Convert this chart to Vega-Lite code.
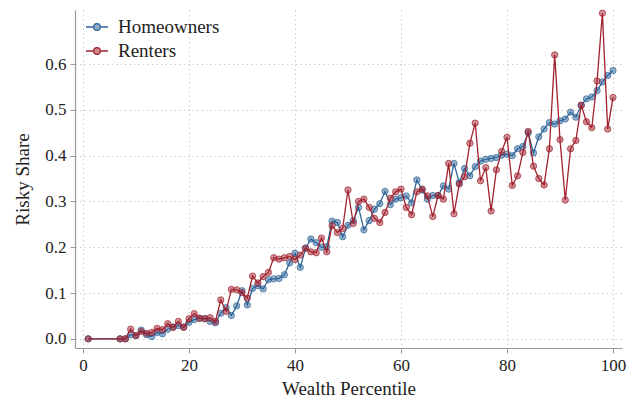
{
  "$schema": "https://vega.github.io/schema/vega-lite/v6.json",
  "width": 547,
  "height": 338,
  "autosize": "none",
  "padding": {"left": 75, "top": 10, "right": 4, "bottom": 54},
  "background": "white",
  "config": {
    "view": {"stroke": null},
    "font": "Liberation Serif, DejaVu Serif, serif",
    "axis": {
      "domainColor": "#9a9a9a",
      "domainWidth": 1.2,
      "tickColor": "#9a9a9a",
      "tickSize": 5,
      "tickWidth": 1,
      "labelFont": "Liberation Serif, DejaVu Serif, serif",
      "labelFontSize": 17,
      "labelColor": "#222222",
      "labelPadding": 4,
      "titleFont": "Liberation Serif, DejaVu Serif, serif",
      "titleFontSize": 19,
      "titleFontWeight": "normal",
      "titleColor": "#222222",
      "grid": true,
      "gridColor": "#cccccc",
      "gridDash": [1.5, 3],
      "gridWidth": 1
    },
    "legend": {
      "labelFont": "Liberation Serif, DejaVu Serif, serif",
      "labelFontSize": 19,
      "labelColor": "#222222"
    }
  },
  "data": {
    "values": [
      {"p": 1, "Homeowners": 0, "Renters": 0},
      {"p": 7, "Homeowners": 0, "Renters": 0},
      {"p": 8, "Homeowners": 0, "Renters": 0},
      {"p": 9, "Homeowners": 0.009, "Renters": 0.021},
      {"p": 10, "Homeowners": 0.007, "Renters": 0.007},
      {"p": 11, "Homeowners": 0.019, "Renters": 0.016},
      {"p": 12, "Homeowners": 0.009, "Renters": 0.012},
      {"p": 13, "Homeowners": 0.005, "Renters": 0.014},
      {"p": 14, "Homeowners": 0.014, "Renters": 0.023},
      {"p": 15, "Homeowners": 0.011, "Renters": 0.02},
      {"p": 16, "Homeowners": 0.021, "Renters": 0.033},
      {"p": 17, "Homeowners": 0.026, "Renters": 0.025},
      {"p": 18, "Homeowners": 0.029, "Renters": 0.038},
      {"p": 19, "Homeowners": 0.026, "Renters": 0.025},
      {"p": 20, "Homeowners": 0.036, "Renters": 0.044},
      {"p": 21, "Homeowners": 0.042, "Renters": 0.055},
      {"p": 22, "Homeowners": 0.045, "Renters": 0.045},
      {"p": 23, "Homeowners": 0.044, "Renters": 0.044},
      {"p": 24, "Homeowners": 0.038, "Renters": 0.046},
      {"p": 25, "Homeowners": 0.035, "Renters": 0.038},
      {"p": 26, "Homeowners": 0.056, "Renters": 0.085},
      {"p": 27, "Homeowners": 0.068, "Renters": 0.06},
      {"p": 28, "Homeowners": 0.051, "Renters": 0.108},
      {"p": 29, "Homeowners": 0.072, "Renters": 0.107},
      {"p": 30, "Homeowners": 0.105, "Renters": 0.101},
      {"p": 31, "Homeowners": 0.074, "Renters": 0.089},
      {"p": 32, "Homeowners": 0.11, "Renters": 0.137},
      {"p": 33, "Homeowners": 0.116, "Renters": 0.122},
      {"p": 34, "Homeowners": 0.109, "Renters": 0.136},
      {"p": 35, "Homeowners": 0.129, "Renters": 0.145},
      {"p": 36, "Homeowners": 0.131, "Renters": 0.177},
      {"p": 37, "Homeowners": 0.132, "Renters": 0.174},
      {"p": 38, "Homeowners": 0.14, "Renters": 0.177},
      {"p": 39, "Homeowners": 0.166, "Renters": 0.18},
      {"p": 40, "Homeowners": 0.187, "Renters": 0.173},
      {"p": 41, "Homeowners": 0.156, "Renters": 0.183},
      {"p": 42, "Homeowners": 0.198, "Renters": 0.198},
      {"p": 43, "Homeowners": 0.218, "Renters": 0.19},
      {"p": 44, "Homeowners": 0.21, "Renters": 0.188},
      {"p": 45, "Homeowners": 0.2, "Renters": 0.22},
      {"p": 46, "Homeowners": 0.201, "Renters": 0.19},
      {"p": 47, "Homeowners": 0.257, "Renters": 0.247},
      {"p": 48, "Homeowners": 0.254, "Renters": 0.232},
      {"p": 49, "Homeowners": 0.223, "Renters": 0.241},
      {"p": 50, "Homeowners": 0.248, "Renters": 0.325},
      {"p": 51, "Homeowners": 0.258, "Renters": 0.252},
      {"p": 52, "Homeowners": 0.287, "Renters": 0.3},
      {"p": 53, "Homeowners": 0.238, "Renters": 0.305},
      {"p": 54, "Homeowners": 0.258, "Renters": 0.287},
      {"p": 55, "Homeowners": 0.283, "Renters": 0.263},
      {"p": 56, "Homeowners": 0.295, "Renters": 0.254},
      {"p": 57, "Homeowners": 0.322, "Renters": 0.276},
      {"p": 58, "Homeowners": 0.293, "Renters": 0.307},
      {"p": 59, "Homeowners": 0.305, "Renters": 0.321},
      {"p": 60, "Homeowners": 0.308, "Renters": 0.327},
      {"p": 61, "Homeowners": 0.312, "Renters": 0.287},
      {"p": 62, "Homeowners": 0.297, "Renters": 0.271},
      {"p": 63, "Homeowners": 0.347, "Renters": 0.321},
      {"p": 64, "Homeowners": 0.325, "Renters": 0.327},
      {"p": 65, "Homeowners": 0.305, "Renters": 0.312},
      {"p": 66, "Homeowners": 0.313, "Renters": 0.267},
      {"p": 67, "Homeowners": 0.313, "Renters": 0.313},
      {"p": 68, "Homeowners": 0.334, "Renters": 0.305},
      {"p": 69, "Homeowners": 0.327, "Renters": 0.383},
      {"p": 70, "Homeowners": 0.383, "Renters": 0.273},
      {"p": 71, "Homeowners": 0.341, "Renters": 0.338},
      {"p": 72, "Homeowners": 0.372, "Renters": 0.354},
      {"p": 73, "Homeowners": 0.356, "Renters": 0.427},
      {"p": 74, "Homeowners": 0.376, "Renters": 0.471},
      {"p": 75, "Homeowners": 0.388, "Renters": 0.345},
      {"p": 76, "Homeowners": 0.392, "Renters": 0.374},
      {"p": 77, "Homeowners": 0.394, "Renters": 0.279},
      {"p": 78, "Homeowners": 0.396, "Renters": 0.369},
      {"p": 79, "Homeowners": 0.401, "Renters": 0.409},
      {"p": 80, "Homeowners": 0.403, "Renters": 0.44},
      {"p": 81, "Homeowners": 0.4, "Renters": 0.335},
      {"p": 82, "Homeowners": 0.415, "Renters": 0.356},
      {"p": 83, "Homeowners": 0.42, "Renters": 0.407},
      {"p": 84, "Homeowners": 0.45, "Renters": 0.453},
      {"p": 85, "Homeowners": 0.406, "Renters": 0.377},
      {"p": 86, "Homeowners": 0.441, "Renters": 0.35},
      {"p": 87, "Homeowners": 0.458, "Renters": 0.336},
      {"p": 88, "Homeowners": 0.472, "Renters": 0.415},
      {"p": 89, "Homeowners": 0.469, "Renters": 0.62},
      {"p": 90, "Homeowners": 0.476, "Renters": 0.435},
      {"p": 91, "Homeowners": 0.48, "Renters": 0.303},
      {"p": 92, "Homeowners": 0.495, "Renters": 0.415},
      {"p": 93, "Homeowners": 0.484, "Renters": 0.433},
      {"p": 94, "Homeowners": 0.51, "Renters": 0.51},
      {"p": 95, "Homeowners": 0.524, "Renters": 0.474},
      {"p": 96, "Homeowners": 0.528, "Renters": 0.461},
      {"p": 97, "Homeowners": 0.542, "Renters": 0.563},
      {"p": 98, "Homeowners": 0.561, "Renters": 0.711},
      {"p": 99, "Homeowners": 0.575, "Renters": 0.458},
      {"p": 100, "Homeowners": 0.586, "Renters": 0.527}
    ]
  },
  "transform": [{"fold": ["Homeowners", "Renters"], "as": ["group", "v"]}],
  "encoding": {
    "x": {
      "field": "p",
      "type": "quantitative",
      "title": "Wealth Percentile",
      "scale": {"domain": [-1.5, 101.7], "nice": false, "zero": false},
      "axis": {"values": [0, 20, 40, 60, 80, 100], "titlePadding": 6}
    },
    "y": {
      "field": "v",
      "type": "quantitative",
      "title": "Risky Share",
      "scale": {"domain": [-0.02, 0.718], "nice": false, "zero": false},
      "axis": {"values": [0, 0.1, 0.2, 0.3, 0.4, 0.5, 0.6], "format": ".1f", "titlePadding": 12}
    },
    "color": {
      "field": "group",
      "type": "nominal",
      "title": null,
      "scale": {"domain": ["Homeowners", "Renters"], "range": ["#2e6599", "#a1222f"]},
      "legend": {
        "orient": "none",
        "legendX": 10,
        "legendY": 5,
        "padding": 0,
        "symbolType": "M-1,0H-0.3M0.3,0H1M-0.3,0A0.3,0.3,0,1,1,0.3,0A0.3,0.3,0,1,1,-0.3,0",
        "symbolSize": 484,
        "symbolStrokeWidth": 1.3,
        "labelOffset": 9,
        "rowPadding": 2,
        "encode": {
          "symbols": {
            "update": {
              "fill": {"scale": "color", "field": "value"},
              "fillOpacity": {"value": 0.55},
              "stroke": {"scale": "color", "field": "value"}
            }
          }
        }
      }
    }
  },
  "layer": [
    {
      "transform": [{"filter": "datum.group === 'Homeowners'"}],
      "mark": {"type": "line", "strokeWidth": 1.3}
    },
    {
      "transform": [{"filter": "datum.group === 'Homeowners'"}],
      "mark": {"type": "point", "filled": false, "shape": "circle", "size": 40, "fill": "#2e6599", "fillOpacity": 0.5, "strokeOpacity": 0.7, "strokeWidth": 1}
    },
    {
      "transform": [{"filter": "datum.group === 'Renters'"}],
      "mark": {"type": "line", "strokeWidth": 1.3}
    },
    {
      "transform": [{"filter": "datum.group === 'Renters'"}],
      "mark": {"type": "point", "filled": false, "shape": "circle", "size": 40, "fill": "#a1222f", "fillOpacity": 0.5, "strokeOpacity": 0.7, "strokeWidth": 1}
    }
  ]
}
